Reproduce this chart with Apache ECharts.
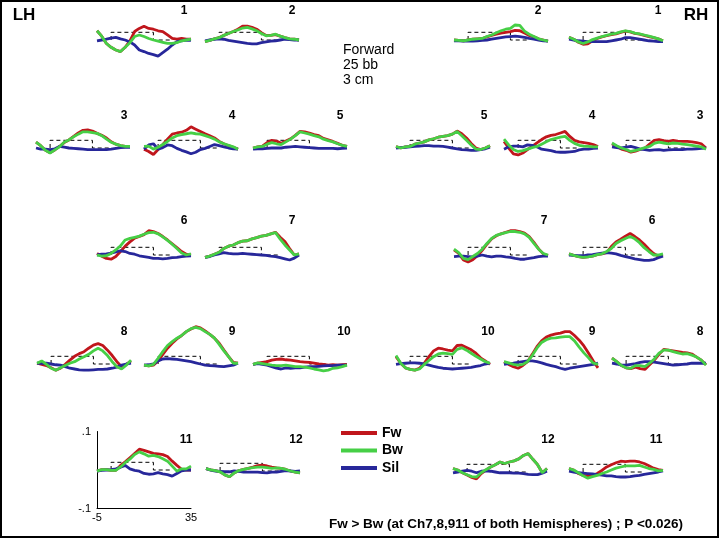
<!DOCTYPE html>
<html><head><meta charset="utf-8">
<script src="https://cdn.jsdelivr.net/npm/echarts@6/dist/echarts.min.js"></script>
<style>html,body{margin:0;padding:0;background:#fff}#c{width:720px;height:540px}</style>
</head><body><div id="c"></div>
<script>
// time axis (ms), sampled every 2 ms
const timeMs = [-5,-3,-1,1,3,5,7,9,11,13,15,17,19,21,23,25,27,29,31,33,35];
// values in units of 1e-3 (0.1 = 100)
const lh1Fw  = [24,10,-9,-19,-26,-30,-19,-2,22,30,36,30,28,24,22,13,4,2,4,2,2];
const lh1Bw  = [24,10,-9,-19,-26,-30,-19,-7,9,13,9,4,0,-3,-6,-9,-9,-7,-2,0,2];
const lh1Sil = [-2,0,2,5,7,3,0,-5,-13,-26,-30,-35,-38,-42,-33,-24,-13,-4,-2,0,-1];
const lh2Fw  = [-4,-1,3,6,12,17,22,28,36,36,33,28,19,12,12,14,10,6,3,2,0];
const lh2Bw  = [-4,-1,3,6,12,17,22,26,31,33,29,24,17,11,12,15,10,6,3,2,0];
const lh2Sil = [-2,0,2,3,2,-1,-3,-5,-7,-9,-10,-10,-7,-5,-3,-2,0,2,1,0,0];
const rh2Fw  = [0,-1,-2,0,2,3,4,8,12,15,18,20,22,25,24,18,12,8,3,0,-3];
const rh2Bw  = [0,-1,-2,0,2,3,4,9,13,19,24,28,30,39,38,23,15,9,3,0,-3];
const rh2Sil = [-2,-2,-3,-3,-3,-2,-1,0,2,4,6,8,9,10,9,7,4,2,0,-2,-3];
const rh1Fw  = [7,2,-6,-11,-10,-2,4,8,11,14,16,20,23,21,17,15,12,9,6,3,-2];
const rh1Bw  = [7,2,-5,-9,-5,1,5,9,12,15,17,21,24,22,18,16,13,10,7,3,-2];
const rh1Sil = [2,0,-2,-3,-4,-4,-4,-4,-4,-2,0,2,6,6,4,2,0,-2,-3,-4,-4];

const lh3Fw  = [15,6,-6,-12,-5,4,14,21,30,39,46,47,44,38,33,26,16,10,6,4,4];
const lh3Bw  = [15,6,-6,-13,-5,3,15,21,29,36,42,42,40,38,32,23,15,10,6,4,4];
const lh3Sil = [0,-3,-3,-4,-2,4,2,0,-1,-2,-3,-4,-4,-4,-4,-4,-3,-1,1,2,2];
const lh4Fw  = [-3,-9,-17,-4,9,23,36,39,41,46,55,49,43,37,32,26,17,11,6,2,-3];
const lh4Bw  = [4,5,-3,2,9,17,26,32,35,37,39,37,36,32,28,23,16,11,7,3,-3];
const lh4Sil = [-3,8,11,-3,1,8,6,-1,-6,-10,-15,-11,-4,-1,4,9,6,3,0,-2,-3];
const lh5Fw  = [0,3,5,14,20,18,12,18,24,33,43,42,39,35,32,25,21,17,12,7,4];
const lh5Bw  = [0,3,4,10,14,11,9,16,23,32,42,39,36,32,29,23,19,16,11,7,4];
const lh5Sil = [-3,-2,-2,-1,0,0,0,2,3,4,3,2,1,0,-1,-1,-1,-1,-2,-1,0];
const rh5Fw  = [4,0,3,4,10,13,16,21,24,28,30,32,36,44,37,26,12,0,-4,0,6];
const rh5Bw  = [4,0,3,4,10,13,16,21,24,28,30,32,36,43,32,20,8,-3,-4,0,6];
const rh5Sil = [0,1,2,3,4,5,6,6,5,5,4,2,0,-2,-4,-5,-6,-6,-4,-2,2];
const rh4Fw  = [17,0,-15,-18,-13,-4,4,13,22,29,33,35,39,43,30,20,16,14,12,9,4];
const rh4Bw  = [23,8,-4,-9,-7,-3,1,4,10,16,22,25,28,30,20,12,7,5,4,3,3];
const rh4Sil = [-3,3,5,5,3,8,7,3,-3,-5,-7,-10,-11,-11,-10,-9,-5,-3,-3,-1,0];
const rh3Fw  = [11,4,-3,-6,-11,-8,-4,0,10,20,22,19,17,20,18,17,17,16,14,11,0];
const rh3Bw  = [13,6,0,-4,-9,-6,-3,1,4,12,15,13,11,13,12,10,9,7,5,3,-3];
const rh3Sil = [3,1,0,2,4,1,-3,-4,-6,-5,-4,-6,-5,-4,-4,-4,-3,-3,-2,-1,0];

const lh6Fw  = [4,-3,-9,-11,-4,9,23,34,44,48,53,63,61,56,48,39,29,19,9,2,0];
const lh6Bw  = [0,-3,-2,4,13,24,39,43,46,49,54,58,59,55,47,38,28,17,5,0,3];
const lh6Sil = [0,2,3,5,8,11,9,4,2,-2,-4,-6,-9,-9,-10,-9,-7,-6,-4,-3,-2];
const lh7Fw  = [-6,-3,2,7,17,23,26,32,36,37,42,45,49,51,55,59,46,35,17,0,3];
const lh7Bw  = [-6,-3,2,7,17,23,26,32,36,37,42,45,49,51,55,58,41,26,13,0,3];
const lh7Sil = [-6,-4,0,3,6,4,3,3,4,3,2,1,0,-1,-3,-4,-7,-10,-13,-8,0];
const rh7Fw  = [13,4,-13,-18,-12,-2,12,28,42,50,55,59,63,63,61,57,48,33,16,3,-2];
const rh7Bw  = [15,6,-9,-12,-4,4,15,30,43,51,55,58,61,61,59,55,46,30,15,4,0];
const rh7Sil = [-4,-3,-3,-4,-5,-3,0,-3,-5,-3,-3,-5,-6,-9,-11,-11,-9,-7,-4,-3,-3];
const rh6Fw  = [3,-1,-4,-6,-5,-3,1,3,6,22,34,41,49,56,48,39,28,15,4,-3,0];
const rh6Bw  = [3,-1,-4,-6,-5,-3,1,3,9,17,30,37,43,48,42,32,19,9,0,0,3];
const rh6Sil = [0,-1,-2,-2,0,1,3,5,6,5,3,-1,-4,-7,-10,-12,-14,-14,-12,-7,-3];

const lh8Fw  = [2,-1,-4,-10,-16,-11,-1,10,20,27,32,41,49,53,48,36,22,6,-7,-1,8];
const lh8Bw  = [2,8,-1,-11,-16,-10,-4,2,6,13,19,25,34,41,34,22,6,-7,-13,-3,10];
const lh8Sil = [2,2,2,0,-2,-3,-7,-11,-13,-15,-16,-16,-15,-14,-14,-13,-11,-8,-3,0,2];
const lh9Fw  = [-3,-5,-3,8,25,41,54,65,74,84,91,97,94,86,77,67,54,36,19,4,2];
const lh9Bw  = [-3,-5,-1,15,32,48,58,67,74,84,92,95,92,84,77,67,51,34,19,2,2];
const lh9Sil = [-3,-2,0,8,13,14,13,12,10,8,6,3,0,-3,-4,-5,-6,-7,-5,-3,2];
const lh10Fw  = [-1,2,4,6,10,12,13,11,10,8,6,5,4,2,0,-1,-3,-2,-3,-2,-1];
const lh10Bw  = [-1,3,1,-1,-3,-4,-4,-3,-5,-7,-7,-8,-10,-13,-15,-18,-16,-11,-10,-7,-3];
const lh10Sil = [-1,1,-1,-3,-7,-11,-13,-10,-11,-10,-10,-8,-7,-7,-6,-5,-4,-4,-3,-3,-3];
const rh10Fw  = [19,2,-10,-14,-16,-11,2,19,34,41,39,36,34,48,49,43,37,28,16,8,-1];
const rh10Bw  = [22,2,-10,-14,-16,-13,-1,9,19,26,28,27,25,38,42,36,28,20,13,6,2];
const rh10Sil = [-1,1,2,3,3,2,0,-3,-6,-9,-11,-12,-13,-12,-11,-10,-9,-6,-4,0,2];
const rh9Fw  = [6,-1,-7,-11,-4,6,25,45,60,70,75,78,80,84,84,74,62,47,28,8,-10];
const rh9Bw  = [6,3,-1,-3,-1,6,22,41,56,63,67,68,70,71,71,60,44,29,16,2,-1];
const rh9Sil = [-1,1,2,4,6,8,8,6,3,-1,-4,-7,-11,-14,-11,-9,-7,-5,-3,-1,2];
const rh8Fw  = [15,6,-4,-10,-12,-8,-12,-14,-2,10,25,38,36,34,32,30,29,26,18,10,-2];
const rh8Bw  = [15,6,-4,-10,-11,-4,-4,-7,2,13,28,36,36,32,29,26,27,23,18,10,-3];
const rh8Sil = [2,0,-3,-3,-1,1,4,6,6,5,3,1,-1,-3,-2,-1,0,2,2,2,2];

const lh11Fw  = [-3,1,1,-1,-1,12,21,32,43,54,51,47,43,42,40,35,23,12,2,0,0];
const lh11Bw  = [-3,1,1,-1,-1,8,19,28,40,47,42,36,38,35,29,23,10,-3,3,3,10];
const lh11Sil = [-3,-1,0,1,3,7,12,3,-1,-3,-9,-11,-10,-7,-10,-12,-16,-9,-2,0,0];
const lh12Fw  = [6,3,1,-2,-10,-15,-5,1,4,7,10,14,15,13,10,8,7,4,0,-3,-5];
const lh12Bw  = [6,3,1,-2,-10,-15,-5,1,4,7,9,10,10,9,7,8,7,4,0,-3,-5];
const lh12Sil = [6,2,0,-1,-2,-2,0,-1,-3,-3,-3,-3,-4,-5,-3,-3,-1,1,0,-1,0];
const rh12Fw  = [9,5,-2,-8,-14,-18,-4,5,13,19,26,22,26,29,34,43,48,33,19,-2,9];
const rh12Bw  = [9,5,-2,-7,-12,-13,-2,6,13,19,26,22,26,29,34,43,48,33,19,-2,9];
const rh12Sil = [-2,0,2,4,2,-2,2,3,2,0,-2,-2,-2,-3,-3,-4,-6,-7,-7,-3,2];
const rh11Fw  = [9,5,-4,-9,-10,-10,-4,4,13,19,24,28,27,28,28,26,22,16,10,6,4];
const rh11Bw  = [9,5,-2,-10,-16,-12,-9,-4,0,5,10,13,16,16,16,17,13,9,7,3,4];
const rh11Sil = [2,0,-2,-3,-4,-5,-7,-8,-10,-10,-12,-13,-13,-12,-10,-9,-6,-4,-2,0,3];

// stimulus marker (dashed box): time and level (1e-3)
const stimTime  = [1,1,19,19,27];
const stimLevel = [0,20,20,0,0];

// panel names and their traces
const panels = [
  {id:'LH1',  label:'1',  fw:lh1Fw,  bw:lh1Bw,  sil:lh1Sil},
  {id:'LH2',  label:'2',  fw:lh2Fw,  bw:lh2Bw,  sil:lh2Sil},
  {id:'RH2',  label:'2',  fw:rh2Fw,  bw:rh2Bw,  sil:rh2Sil},
  {id:'RH1',  label:'1',  fw:rh1Fw,  bw:rh1Bw,  sil:rh1Sil},
  {id:'LH3',  label:'3',  fw:lh3Fw,  bw:lh3Bw,  sil:lh3Sil},
  {id:'LH4',  label:'4',  fw:lh4Fw,  bw:lh4Bw,  sil:lh4Sil},
  {id:'LH5',  label:'5',  fw:lh5Fw,  bw:lh5Bw,  sil:lh5Sil},
  {id:'RH5',  label:'5',  fw:rh5Fw,  bw:rh5Bw,  sil:rh5Sil},
  {id:'RH4',  label:'4',  fw:rh4Fw,  bw:rh4Bw,  sil:rh4Sil},
  {id:'RH3',  label:'3',  fw:rh3Fw,  bw:rh3Bw,  sil:rh3Sil},
  {id:'LH6',  label:'6',  fw:lh6Fw,  bw:lh6Bw,  sil:lh6Sil},
  {id:'LH7',  label:'7',  fw:lh7Fw,  bw:lh7Bw,  sil:lh7Sil},
  {id:'RH7',  label:'7',  fw:rh7Fw,  bw:rh7Bw,  sil:rh7Sil},
  {id:'RH6',  label:'6',  fw:rh6Fw,  bw:rh6Bw,  sil:rh6Sil},
  {id:'LH8',  label:'8',  fw:lh8Fw,  bw:lh8Bw,  sil:lh8Sil},
  {id:'LH9',  label:'9',  fw:lh9Fw,  bw:lh9Bw,  sil:lh9Sil},
  {id:'LH10', label:'10', fw:lh10Fw, bw:lh10Bw, sil:lh10Sil},
  {id:'RH10', label:'10', fw:rh10Fw, bw:rh10Bw, sil:rh10Sil},
  {id:'RH9',  label:'9',  fw:rh9Fw,  bw:rh9Bw,  sil:rh9Sil},
  {id:'RH8',  label:'8',  fw:rh8Fw,  bw:rh8Bw,  sil:rh8Sil},
  {id:'LH11', label:'11', fw:lh11Fw, bw:lh11Bw, sil:lh11Sil},
  {id:'LH12', label:'12', fw:lh12Fw, bw:lh12Bw, sil:lh12Sil},
  {id:'RH12', label:'12', fw:rh12Fw, bw:rh12Bw, sil:rh12Sil},
  {id:'RH11', label:'11', fw:rh11Fw, bw:rh11Bw, sil:rh11Sil}
];

// ---- layout (pixels) ----
const PW = 94, PH = 77;
const layout = { // [left, zero-line y, label center x, label center y]
  LH1:[97,40,184,11],   LH2:[205,40,292,11],  RH2:[454,40,538,11],  RH1:[569,40,658,11],
  LH3:[36,148,124,116], LH4:[144,148,232,116], LH5:[253,148,340,116],
  RH5:[396,148,484,116], RH4:[504,148,592,116], RH3:[612,148,700,116],
  LH6:[97,255,184,221], LH7:[205,255,292,221], RH7:[454,255,544,221], RH6:[569,255,652,221],
  LH8:[37,364,124,332], LH9:[144,364,232,332], LH10:[253,364,344,332],
  RH10:[396,364,488,332], RH9:[504,364,592,332], RH8:[612,364,700,332],
  LH11:[97,470,186,440], LH12:[206,471,296,440], RH12:[453,472,548,440], RH11:[569,472,656,440]
};
const COL = {Fw:'#c0161c', Bw:'#46cf46', Sil:'#27279a'};
const FONT = 'Liberation Sans, Arial, sans-serif';

const grids = [], xAxes = [], yAxes = [], series = [], graphics = [];
panels.forEach((p, i) => {
  const [left, zeroY, lx, ly] = layout[p.id];
  grids.push({left: left, top: zeroY - PH/2, width: PW, height: PH});
  const axisOn = p.id === 'LH11';
  xAxes.push({
    gridIndex: i, type: 'value', min: -5, max: 35, show: axisOn,
    splitLine: {show: false},
    axisLine: {show: axisOn, onZero: false, lineStyle: {color: '#000', width: 1}},
    axisTick: {show: false},
    axisLabel: {show: axisOn, customValues: [-5, 35], margin: 4, fontSize: 11, color: '#000', fontFamily: FONT}
  });
  yAxes.push({
    gridIndex: i, type: 'value', min: -0.1, max: 0.1, show: axisOn,
    splitLine: {show: false},
    axisLine: {show: axisOn, onZero: false, lineStyle: {color: '#000', width: 1}},
    axisTick: {show: false},
    axisLabel: {show: axisOn, customValues: [-0.1, 0.1], margin: 6, fontSize: 11, color: '#000', fontFamily: FONT,
      formatter: v => (v > 0 ? '.1' : '-.1')}
  });
  series.push({
    type: 'line', xAxisIndex: i, yAxisIndex: i, silent: true, showSymbol: false, z: 1,
    data: stimTime.map((t, k) => [t, stimLevel[k] / 1000]),
    lineStyle: {color: '#000', width: 1, type: [4, 3]}
  });
  [['Fw', p.fw], ['Sil', p.sil], ['Bw', p.bw]].forEach(([nm, arr], k) => {
    series.push({
      name: nm, type: 'line', xAxisIndex: i, yAxisIndex: i, showSymbol: false, silent: true,
      z: 2 + k, color: COL[nm],
      data: timeMs.map((t, j) => [t, arr[j] / 1000]),
      lineStyle: {color: COL[nm], width: 2.8}, itemStyle: {color: COL[nm]}
    });
  });
  graphics.push({type: 'text', x: lx, y: ly, style: {text: p.label, font: 'bold 12px ' + FONT, fill: '#000', align: 'center', verticalAlign: 'middle'}});
});

graphics.push(
  {type: 'rect', shape: {x: 1, y: 1, width: 717, height: 536}, style: {fill: 'none', stroke: '#000', lineWidth: 2}, z: 100},
  {type: 'text', x: 24, y: 15, style: {text: 'LH', font: 'bold 17px ' + FONT, fill: '#000', align: 'center', verticalAlign: 'middle'}},
  {type: 'text', x: 696, y: 15, style: {text: 'RH', font: 'bold 17px ' + FONT, fill: '#000', align: 'center', verticalAlign: 'middle'}},
  {type: 'text', x: 343, y: 50, style: {text: 'Forward', font: '14px ' + FONT, fill: '#000', verticalAlign: 'middle'}},
  {type: 'text', x: 343, y: 65, style: {text: '25 bb', font: '14px ' + FONT, fill: '#000', verticalAlign: 'middle'}},
  {type: 'text', x: 343, y: 80, style: {text: '3 cm', font: '14px ' + FONT, fill: '#000', verticalAlign: 'middle'}},
  {type: 'text', x: 506, y: 524, style: {text: 'Fw > Bw (at Ch7,8,911 of both Hemispheres) ; P <0.026)', font: 'bold 13.5px ' + FONT, fill: '#000', align: 'center', verticalAlign: 'middle'}}
);

const chart = echarts.init(document.getElementById('c'), null, {renderer: 'canvas'});
chart.setOption({
  animation: false,
  backgroundColor: '#fff',
  grid: grids, xAxis: xAxes, yAxis: yAxes, series: series,
  legend: {
    data: ['Fw', 'Bw', 'Sil'], orient: 'vertical', left: 336, top: 421,
    icon: 'rect', itemWidth: 36, itemHeight: 4, itemGap: 3.5, selectedMode: false,
    textStyle: {fontWeight: 'bold', fontSize: 14, color: '#000', fontFamily: FONT}
  },
  graphic: graphics
});
</script></body></html>
